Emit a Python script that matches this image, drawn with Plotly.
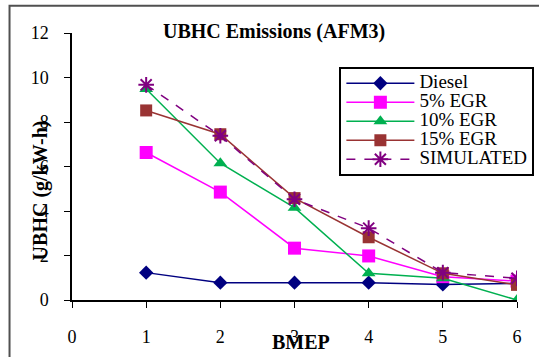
import plotly.graph_objects as go

# BMEP load points
bmep = [1, 2, 3, 4, 5, 6]

# UBHC emissions (g/kW-h) per fuel / EGR setting
diesel = [1.23, 0.78, 0.78, 0.78, 0.70, 0.75]
egr5 = [6.63, 4.85, 2.33, 1.98, 1.05, 0.85]
egr10 = [9.48, 6.15, 4.15, 1.20, 0.98, 0.0]
egr15 = [8.52, 7.45, 4.58, 2.82, 1.20, 0.68]
simulated = [9.67, 7.38, 4.53, 3.23, 1.23, 0.98]

series_names = ["Diesel", "5% EGR", "10% EGR", "15% EGR", "SIMULATED"]

W, H = 539, 357
L, R, T, B = 71.5, 22.3, 33.3, 57
PW, PH = W - L - R, H - T - B

FONT = "'Liberation Serif', 'Times New Roman', Times, serif"


def px(x):
    return (x - L) / PW


def py(y):
    return 1 - (y - T) / PH


styles = [
    dict(color="#000080", symbol="diamond", size=11, dash="solid"),
    dict(color="#FF00FF", symbol="square", size=13, dash="solid"),
    dict(color="#00B050", symbol="triangle-up", size=12, dash="solid"),
    dict(color="#993333", symbol="square", size=12, dash="solid"),
    dict(color="#800080", symbol="asterisk-open", size=13, dash="dash"),
]

fig = go.Figure()
for name, ys, st in zip(series_names, [diesel, egr5, egr10, egr15, simulated], styles):
    marker = dict(color=st["color"], symbol=st["symbol"], size=st["size"])
    if st["symbol"] == "asterisk-open":
        marker["line"] = dict(color=st["color"], width=2)
    fig.add_trace(go.Scatter(
        x=bmep, y=ys, mode="lines+markers",
        # compact legend rows with larger entry text
        name=f'<span style="font-size:19px">{name}</span>',
        line=dict(color=st["color"], width=1.5, dash=st["dash"]),
        marker=marker,
    ))

fig.update_layout(
    width=W, height=H,
    margin=dict(l=L, r=R, t=T, b=B, pad=0, autoexpand=False),
    paper_bgcolor="white", plot_bgcolor="white",
    font=dict(family=FONT, size=17, color="black"),
    showlegend=True,
    legend=dict(
        x=px(339), y=py(67), xanchor="left", yanchor="top",
        bordercolor="black", borderwidth=2, bgcolor="white",
        font=dict(family=FONT, size=12, color="black"),
        tracegroupgap=0, itemwidth=68,
    ),
    xaxis=dict(
        range=[0, 6], tickvals=[0, 1, 2, 3, 4, 5, 6], showgrid=False, zeroline=False,
        showline=True, linecolor="black", linewidth=1.5,
        ticks="outside", ticklen=6, tickcolor="black",
        ticklabelstandoff=14, tickfont=dict(family=FONT, size=18),
    ),
    yaxis=dict(
        range=[0, 12], tickvals=[0, 2, 4, 6, 8, 10, 12], showgrid=False, zeroline=False,
        showline=True, linecolor="black", linewidth=1.5,
        ticks="outside", ticklen=6, tickcolor="black",
        ticklabelstandoff=12, tickfont=dict(family=FONT, size=18),
    ),
    annotations=[
        dict(text="<b>UBHC Emissions (AFM3)</b>", x=px(274), y=py(32), xref="paper", yref="paper",
             xanchor="center", yanchor="middle", showarrow=False, font=dict(family=FONT, size=20)),
        dict(text="<b>BMEP</b>", x=px(301), y=py(342), xref="paper", yref="paper",
             xanchor="center", yanchor="middle", showarrow=False, font=dict(family=FONT, size=20)),
        dict(text="<b>UBHC (g/kW-h)</b>", x=px(40), y=py(191), xref="paper", yref="paper",
             xanchor="center", yanchor="middle", showarrow=False, textangle=-90,
             font=dict(family=FONT, size=20)),
    ],
    shapes=[
        dict(type="rect", xref="paper", yref="paper",
             x0=px(9), x1=px(W + 10), y0=py(H + 10), y1=py(6),
             line=dict(color="#505050", width=2), layer="below"),
    ],
)

fig.write_html("out.html")
